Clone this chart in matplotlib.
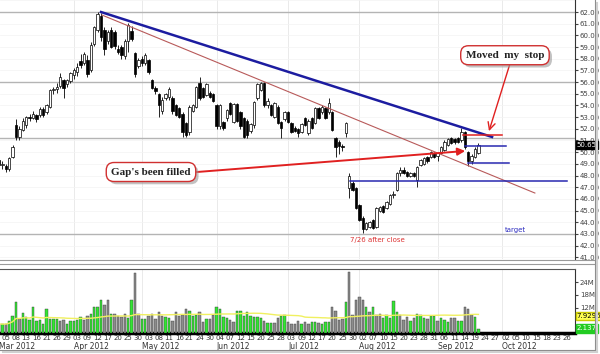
import numpy as np
import pandas as pd
import matplotlib
matplotlib.use("Agg")
import matplotlib.pyplot as plt
import matplotlib.patheffects as pe
from matplotlib.lines import Line2D

# trading calendar, Mar 1 - Oct 26 2012 (exchange holidays taken out)
holidays = ["2012-04-06", "2012-05-28", "2012-07-04", "2012-09-03"]
days = pd.bdate_range("2012-03-01", "2012-10-26")
days = days[~days.isin(pd.to_datetime(holidays))]

# daily candles, Mar 1 - Sep 20
opens = [49.3, 48.9, 48.8, 48.6, 49.6, 52.3, 51.3, 51.9, 52.3, 53.0,
         52.9, 53.2, 53.2, 53.7, 53.4, 53.9, 55.3, 55.4, 55.7, 56.2,
         55.8, 56.1, 56.6, 56.9, 57.8, 57.6, 57.9, 57.0, 59.3, 60.5,
         61.7, 60.5, 59.5, 60.5, 60.3, 58.8, 59.0, 58.2, 59.5, 60.4,
         58.5, 57.4, 58.0, 57.6, 57.9, 56.2, 55.5, 55.0, 53.5, 54.6,
         54.7, 54.6, 54.0, 53.8, 53.3, 52.5, 51.7, 53.5, 53.9, 55.9,
         55.5, 54.9, 55.1, 55.0, 54.0, 52.2, 52.6, 52.9, 54.2, 52.6,
         54.1, 53.4, 52.9, 52.7, 51.8, 52.3, 54.6, 55.3, 55.9, 54.0,
         54.0, 53.0, 53.9, 52.6, 52.8, 53.4, 52.5, 52.1, 52.0, 51.7,
         52.9, 51.6, 52.9, 52.5, 53.8, 53.4, 53.8, 53.4, 53.4, 51.2,
         50.9, 50.5, 51.6, 46.9, 47.4, 46.9, 45.5, 44.4, 43.4, 43.6,
         44.2, 43.6, 45.0, 45.4, 45.2, 45.6, 46.3, 46.8, 48.2, 48.5,
         48.3, 48.0, 48.2, 47.6, 48.9, 49.0, 49.6, 49.6, 49.9, 49.7,
         49.9, 50.2, 50.6, 51.2, 51.1, 51.2, 51.0, 51.7, 50.0, 49.2,
         49.6, 49.9]
highs = [49.6, 49.2, 49.0, 49.6, 50.6, 52.8, 52.2, 52.9, 53.1, 53.3,
         53.5, 53.3, 53.9, 53.9, 54.1, 55.4, 55.6, 55.9, 56.8, 56.3,
         56.3, 56.9, 57.2, 57.6, 58.4, 58.6, 58.3, 59.4, 60.8, 62.0,
         61.9, 60.7, 60.5, 60.7, 60.5, 59.2, 59.2, 59.7, 61.1, 60.8,
         58.6, 58.1, 58.2, 58.5, 58.0, 56.3, 55.7, 55.1, 54.7, 55.1,
         55.6, 54.8, 54.1, 53.9, 53.4, 52.6, 54.0, 54.1, 55.7, 56.4,
         55.6, 55.9, 55.2, 55.1, 54.1, 54.1, 52.7, 53.7, 54.3, 54.2,
         54.2, 53.5, 53.0, 52.8, 52.5, 54.4, 55.9, 56.0, 56.0, 54.6,
         54.1, 54.3, 54.0, 52.7, 53.5, 53.5, 52.6, 52.2, 52.1, 52.5,
         53.0, 52.8, 53.0, 53.9, 53.9, 54.0, 53.9, 54.6, 53.5, 51.3,
         51.0, 50.7, 52.6, 48.2, 47.5, 47.0, 45.6, 44.5, 44.0, 44.1,
         44.3, 45.3, 45.4, 45.5, 45.8, 46.4, 46.7, 48.3, 48.7, 48.7,
         48.4, 48.3, 48.3, 48.8, 49.4, 49.6, 49.7, 50.1, 50.0, 50.0,
         50.5, 51.0, 51.2, 51.3, 51.2, 51.3, 52.1, 51.8, 50.1, 49.8,
         50.4, 50.8]
lows = [48.7, 48.6, 48.3, 48.4, 49.5, 51.0, 51.0, 51.8, 52.1, 52.7,
        52.8, 52.6, 53.0, 53.0, 53.3, 53.8, 55.0, 55.1, 55.5, 54.6,
        55.6, 55.9, 56.3, 56.5, 57.2, 57.5, 56.4, 56.9, 59.1, 60.3,
        59.5, 58.3, 59.3, 58.9, 58.8, 58.4, 58.0, 58.0, 58.6, 59.5,
        56.4, 57.2, 57.4, 57.5, 56.7, 55.4, 55.0, 53.0, 53.3, 54.5,
        54.5, 53.3, 53.1, 52.9, 51.3, 51.3, 51.5, 53.4, 53.8, 54.5,
        54.6, 54.8, 54.6, 54.3, 52.0, 52.0, 51.9, 52.7, 53.2, 52.5,
        52.6, 52.0, 51.2, 51.2, 51.6, 52.1, 54.5, 55.2, 53.9, 53.8,
        53.1, 52.9, 52.4, 51.2, 52.7, 52.5, 51.6, 51.7, 51.3, 51.6,
        52.2, 51.5, 52.0, 52.4, 52.8, 53.3, 52.8, 53.3, 51.8, 49.6,
        49.8, 50.1, 51.3, 46.1, 46.7, 45.1, 44.1, 43.1, 43.3, 43.5,
        43.4, 43.5, 44.9, 44.8, 45.1, 45.5, 46.1, 46.7, 48.0, 48.1,
        47.9, 47.9, 47.9, 47.0, 48.8, 48.9, 49.1, 49.5, 49.5, 49.2,
        49.8, 50.1, 50.5, 50.7, 50.7, 50.8, 50.9, 50.3, 48.8, 49.0,
        49.5, 49.8]
closes = [48.9, 49.0, 48.6, 49.5, 50.4, 51.3, 52.0, 52.7, 53.0, 52.9,
          53.3, 52.8, 53.7, 53.2, 54.0, 55.3, 55.4, 55.6, 56.4, 55.5,
          56.2, 56.8, 57.0, 57.3, 57.5, 58.4, 56.7, 59.2, 60.7, 61.8,
          59.9, 58.8, 60.3, 59.0, 59.1, 58.6, 58.3, 59.5, 60.9, 59.7,
          56.7, 57.9, 57.6, 58.3, 56.9, 55.5, 55.2, 54.0, 54.5, 55.0,
          55.4, 53.5, 53.2, 53.0, 51.7, 51.5, 53.9, 54.0, 55.6, 54.6,
          54.7, 55.8, 54.7, 54.4, 52.2, 54.0, 52.1, 53.6, 53.3, 54.1,
          52.7, 52.2, 51.3, 51.5, 52.4, 54.3, 55.8, 55.9, 54.0, 54.4,
          53.2, 54.2, 52.5, 52.1, 53.4, 52.6, 51.7, 51.8, 51.6, 52.4,
          52.3, 52.7, 52.1, 53.8, 52.9, 53.9, 52.9, 54.2, 51.9, 50.4,
          50.5, 50.4, 52.5, 48.0, 46.8, 45.2, 44.2, 43.4, 43.9, 44.0,
          43.5, 45.2, 45.3, 44.9, 45.7, 46.3, 46.4, 48.2, 48.5, 48.2,
          48.0, 48.2, 48.0, 48.7, 49.3, 49.5, 49.2, 50.0, 49.6, 49.9,
          50.4, 50.9, 51.1, 50.8, 50.9, 50.9, 51.7, 50.4, 49.2, 49.7,
          50.3, 50.65]

# volume in millions, G = green bar, K = grey bar
volume = [4.2, 4.2, 4.2, 5.8, 8.2, 14.6, 6.6, 9.4, 7.4, 6.2,
          12.2, 5.8, 6.1, 4.2, 11.1, 6.6, 6.6, 6.6, 5.8, 6.2,
          4.2, 5.8, 5.8, 6.2, 7.4, 6.2, 8.2, 9.0, 12.2, 12.2,
          15.4, 13.0, 15.4, 9.0, 9.0, 8.2, 7.4, 9.0, 6.9, 15.4,
          28.2, 9.0, 6.6, 6.6, 8.2, 9.0, 6.6, 10.1, 8.2, 7.4,
          6.9, 5.8, 9.8, 7.8, 8.5, 11.4, 10.6, 7.8, 8.5, 9.8,
          5.0, 6.6, 6.6, 8.5, 12.2, 11.1, 7.4, 6.9, 6.2,
          5.0, 10.6, 10.6, 7.8, 10.1, 7.8, 7.4, 7.4, 6.9, 5.8,
          4.7, 4.7, 4.7, 7.0, 8.2, 8.5, 5.0, 4.2, 4.2, 5.8,
          4.2, 5.0, 4.2, 5.4, 5.4, 4.5, 4.2, 5.4, 5.0, 12.2,
          10.6, 6.2, 6.6, 14.6, 29.0, 8.5, 15.4, 17.0, 15.7, 12.2,
          10.1, 12.5, 8.5, 9.0, 6.9, 8.5, 6.9, 14.9, 9.8, 8.5,
          6.2, 7.4, 5.8, 6.9, 9.0, 8.5, 6.9, 6.6, 8.2, 8.2, 5.8,
          6.9, 6.2, 5.4, 6.9, 6.9, 5.8, 5.6, 12.2, 11.4, 8.5, 7.4, 2.1]
vol_flags = ("GGKGGGKGGG" "GGGGGGGGKK" "GGGGGKKGGG" "GKKGKKKKGG"
             "KKGGKKKKKG" "GKKKKKGGGK" "KGKKGGGGK"
             "KGGGGGGGGK" "GGKKGGKKKK"
             "GKKGGKGGGK" "KKKGKKKKKG" "KGKKGGGGGK"
             "KKGKGGGKGGK" "GGGKKGGKKKGG")

tick_dates = ["2012-03-05", "2012-03-08", "2012-03-13", "2012-03-16", "2012-03-21",
              "2012-03-26", "2012-03-29", "2012-04-03", "2012-04-09", "2012-04-12",
              "2012-04-17", "2012-04-20", "2012-04-25", "2012-04-30", "2012-05-03",
              "2012-05-08", "2012-05-11", "2012-05-16", "2012-05-21", "2012-05-24",
              "2012-05-30", "2012-06-04", "2012-06-07", "2012-06-12", "2012-06-15",
              "2012-06-20", "2012-06-25", "2012-06-28", "2012-07-03", "2012-07-09",
              "2012-07-12", "2012-07-17", "2012-07-20", "2012-07-25", "2012-07-30",
              "2012-08-02", "2012-08-07", "2012-08-10", "2012-08-15", "2012-08-20",
              "2012-08-23", "2012-08-28", "2012-08-31", "2012-09-06", "2012-09-11",
              "2012-09-14", "2012-09-19", "2012-09-24", "2012-09-27", "2012-10-02",
              "2012-10-05", "2012-10-10", "2012-10-15", "2012-10-18", "2012-10-23",
              "2012-10-26"]

support_levels = [62.0, 56.0, 51.25, 43.0]

W, H = 600, 354
fig = plt.figure(figsize=(W / 100, H / 100), dpi=100)
fig.patch.set_facecolor("white")


def fx(px):
    return px / W


def fy(py):
    return 1 - py / H


ax = fig.add_axes([0, fy(259), fx(575), fy(0) - fy(259)])
axv = fig.add_axes([0, fy(333), fx(575), fy(269) - fy(333)], sharex=ax)

idx = np.arange(len(closes))
o = np.array(opens)
c = np.array(closes)
up = c >= o

# month gridlines + faint price grid
month_starts = [i for i in range(1, len(days)) if days[i].month != days[i - 1].month]
for m in month_starts:
    ax.axvline(m, color="#e6e6e6", lw=0.6, zorder=0)
    axv.axvline(m, color="#e6e6e6", lw=0.6, zorder=0)
for p in range(41, 64):
    ax.axhline(p, color="#f3f3f3", lw=0.5, zorder=0)
for p in support_levels:
    ax.axhline(p, color="#b4b4b4", lw=1.0, zorder=1)

# candles
ax.vlines(idx, lows, highs, color="black", lw=0.6, zorder=3)
body_lo = np.minimum(o, c)
body_h = np.maximum(np.abs(c - o), 0.05)
ax.bar(idx, body_h, bottom=body_lo, width=0.72,
       color=np.where(up, "white", "black"), edgecolor="black", linewidth=0.5, zorder=4)

# trend lines
ax.plot([30, 145], [62.0, 51.3], color="#1c1ca0", lw=1.8, zorder=5)
ax.plot([30.3, 157.6], [61.74, 46.5], color="#b85a5a", lw=0.8, zorder=5)
ax.plot([103.2, 167], [47.53, 47.53], color="#2828b0", lw=1.1, zorder=5)
ax.plot([137.1, 149.1], [50.5, 50.5], color="#2828b0", lw=1.1, zorder=5)
ax.plot([138, 150], [49.07, 49.07], color="#2828b0", lw=1.1, zorder=5)
ax.plot([136.5, 147.9], [51.47, 51.47], color="#e02020", lw=1.1, zorder=5)

ax.annotate("", xy=(137.1, 50.1), xytext=(58.2, 48.3),
            arrowprops=dict(arrowstyle="-|>", color="#e02020", lw=1.4,
                            mutation_scale=11, shrinkA=0, shrinkB=0), zorder=6)
ax.annotate("", xy=(144.1, 51.8), xytext=(150.3, 57.6),
            arrowprops=dict(arrowstyle="->", color="#e02020", lw=1.0,
                            mutation_scale=13, shrinkA=0, shrinkB=0), zorder=6)

for txt, (xi, yp) in [("Gap's been filled", (44.7, 48.3)), ("Moved  my  stop", (148.8, 58.3))]:
    t = ax.text(xi, yp, txt, color="#222222", ha="center", va="center", fontsize=8,
                fontweight="bold", family="Liberation Serif", zorder=8,
                bbox=dict(boxstyle="round,pad=0.45,rounding_size=0.7", fc="white",
                          ec="#d03030", lw=1.0))
    t.get_bbox_patch().set_path_effects(
        [pe.SimplePatchShadow(offset=(2, -2), shadow_rgbFace="#9a9a9a", alpha=0.6), pe.Normal()])

ax.text(111.2, 42.5, "7/26 after close", color="#dd3333", fontsize=5, ha="center", va="center")
ax.text(152, 43.35, "target", color="#3030c0", fontsize=5, ha="center", va="center")

ax.set_xlim(0.29, 169.4)
ax.set_ylim(40.85, 63.03)
ax.yaxis.tick_right()
ax.set_yticks(range(41, 63))
ax.set_yticklabels([f"{v:.2f}" for v in range(41, 63)])
ax.tick_params(axis="y", labelsize=5, length=2, pad=1.5, colors="#444444")
ax.tick_params(axis="x", bottom=False, labelbottom=False)
for s in ["left", "top", "bottom"]:
    ax.spines[s].set_visible(False)
ax.spines["right"].set_color("#333333")
ax.spines["right"].set_linewidth(0.8)
ax.text(1.003, (50.65 - 40.85) / (63.03 - 40.85), "50.65", transform=ax.transAxes,
        fontsize=5, color="white", ha="left", va="center",
        bbox=dict(boxstyle="square,pad=0.15", fc="black", ec="black"), zorder=9, clip_on=False)

# volume
vcol = ["#33e633" if f == "G" else "#8c8c8c" for f in vol_flags]
axv.bar(idx, volume, width=0.72, color=vcol, edgecolor="#3a3a3a", linewidth=0.3, zorder=3)
ma = pd.Series(volume).rolling(50, min_periods=1).mean()
axv.plot(idx, ma, color="#f0f060", lw=1.0, zorder=4)
axv.set_ylim(0, 30.2)
axv.yaxis.tick_right()
axv.set_yticks([12, 18, 24])
axv.set_yticklabels(["12M", "18M", "24M"])
axv.tick_params(axis="y", labelsize=5, length=2, pad=1.5, colors="#444444")
for s in ["left", "top"]:
    axv.spines[s].set_visible(False)
axv.spines["right"].set_color("#333333")
axv.spines["right"].set_linewidth(0.8)
axv.spines["bottom"].set_color("black")
axv.spines["bottom"].set_linewidth(2.5)
axv.text(1.003, 7.93 / 30.2, "7.9296", transform=axv.transAxes, fontsize=5, color="black",
         ha="left", va="center", bbox=dict(boxstyle="square,pad=0.15", fc="#ffff55", ec="#cccc00"),
         clip_on=False, zorder=9)
axv.text(1.003, 2.137 / 30.2, "2.137", transform=axv.transAxes, fontsize=5, color="white",
         ha="left", va="center", bbox=dict(boxstyle="square,pad=0.15", fc="#22cc22", ec="#22cc22"),
         clip_on=False, zorder=9)

tick_pos = days.get_indexer(pd.to_datetime(tick_dates))
axv.set_xticks(tick_pos)
axv.set_xticklabels([pd.Timestamp(d).strftime("%d") for d in tick_dates])
axv.tick_params(axis="x", labelsize=5, length=0, pad=1.5, colors="#333333")
for m in [0] + month_starts:
    axv.text(m, -0.14, days[m].strftime("%b %Y"), transform=axv.get_xaxis_transform(),
             fontsize=5.5, color="#333333", ha="left", va="top")

# panel separators and outer frame
for py, x1, col in [(260, 595, "#9a9a9a"), (264, 595, "#9a9a9a"), (269, 575, "#555555")]:
    fig.add_artist(Line2D([0, fx(x1)], [fy(py), fy(py)], color=col, lw=0.8))
fig.add_artist(Line2D([fx(595), fx(595)], [fy(0), fy(350)], color="#8a8a8a", lw=0.8))
fig.add_artist(Line2D([0, fx(595)], [fy(350), fy(350)], color="#8a8a8a", lw=0.8))
fig.add_artist(Line2D([fx(597), fx(597)], [fy(3), fy(352)], color="#d0d0d0", lw=1.5))
fig.add_artist(Line2D([fx(3), fx(597)], [fy(352), fy(352)], color="#d0d0d0", lw=1.5))

fig.savefig("out.png", dpi=100)
